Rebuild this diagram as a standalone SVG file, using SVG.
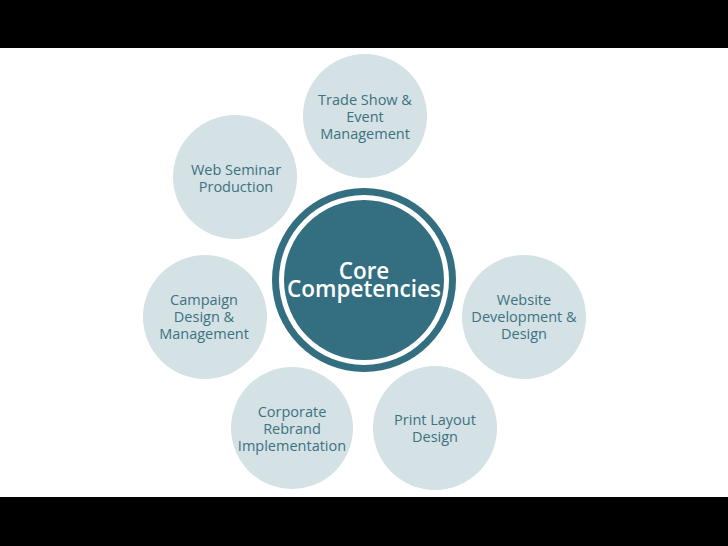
<svg xmlns="http://www.w3.org/2000/svg" width="728" height="546" viewBox="0 0 728 546">
<style>
.bub{fill:#d4e1e5}
.lbl{font-family:"Open Sans","Liberation Sans",sans-serif;font-size:14.5px;fill:#3c7282;text-anchor:middle}
.core{font-family:"Open Sans","Liberation Sans",sans-serif;font-size:22.5px;font-weight:600;fill:#ffffff;text-anchor:middle}
</style>
<rect x="0" y="0" width="728" height="546" fill="#ffffff"/>
<rect x="0" y="0" width="728" height="48" fill="#000000"/>
<rect x="0" y="497" width="728" height="49" fill="#000000"/>
<g id="trade-show">
<circle class="bub" cx="365" cy="116" r="62"/>
<text class="lbl" x="365" y="105">Trade Show &amp;</text>
<text class="lbl" x="365" y="122">Event</text>
<text class="lbl" x="365" y="139">Management</text>
</g>
<g id="web-seminar">
<circle class="bub" cx="235" cy="177" r="62"/>
<text class="lbl" x="236" y="175">Web Seminar</text>
<text class="lbl" x="236" y="192">Production</text>
</g>
<g id="campaign">
<circle class="bub" cx="205" cy="317" r="62"/>
<text class="lbl" x="204" y="305">Campaign</text>
<text class="lbl" x="204" y="322">Design &amp;</text>
<text class="lbl" x="204" y="339">Management</text>
</g>
<g id="website">
<circle class="bub" cx="524" cy="317" r="62"/>
<text class="lbl" x="524" y="305">Website</text>
<text class="lbl" x="524" y="322">Development &amp;</text>
<text class="lbl" x="524" y="339">Design</text>
</g>
<g id="corporate">
<circle class="bub" cx="292" cy="428" r="61"/>
<text class="lbl" x="292" y="417">Corporate</text>
<text class="lbl" x="292" y="434">Rebrand</text>
<text class="lbl" x="292" y="451">Implementation</text>
</g>
<g id="print-layout">
<circle class="bub" cx="435" cy="428" r="62"/>
<text class="lbl" x="435" y="425">Print Layout</text>
<text class="lbl" x="435" y="442">Design</text>
</g>
<g id="core">
<circle cx="364" cy="280" r="92" fill="#336f80"/>
<circle cx="364" cy="280" r="85" fill="#ffffff"/>
<circle cx="364" cy="280" r="80" fill="#336f80"/>
<text class="core" x="364" y="279">Core</text>
<text class="core" x="364" y="297">Competencies</text>
</g>
</svg>
